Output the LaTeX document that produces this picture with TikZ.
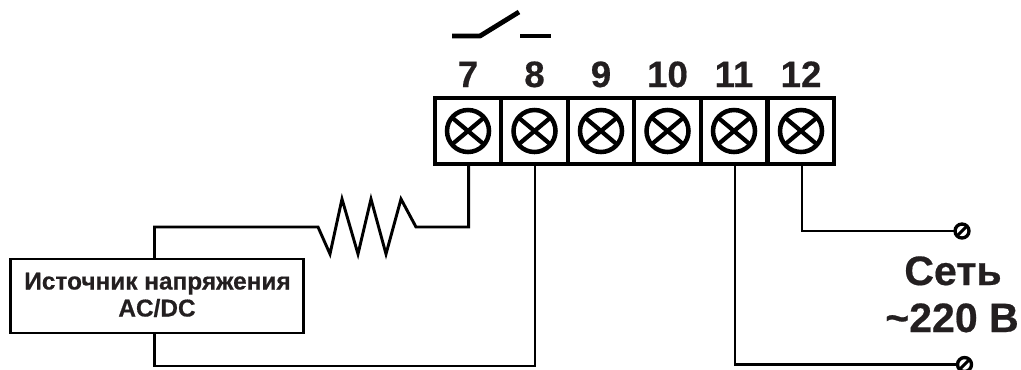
\documentclass[tikz,border=0pt]{standalone}
\usepackage{fontspec}
\setmainfont[BoldFeatures={FakeBold=0.5}]{Liberation Sans}
\definecolor{ink}{HTML}{231F20}
\tikzset{
  cell/.style={draw=black,line width=3.2pt,minimum width=49.9pt,minimum height=49.5pt,inner sep=0pt,outer sep=0pt},
  screw/.style={circle,draw=black,line width=3.4pt,minimum size=31.5pt,inner sep=0pt,outer sep=0pt},
  wire/.style={draw=black,line width=2.2pt,line join=miter},
  contact/.style={draw=black,line width=3.6pt},
  endpoint/.style={circle,draw=black,line width=2.5pt,minimum size=10.5pt,inner sep=0pt,outer sep=0pt},
  num/.style={font=\fontsize{27.5}{27.5}\selectfont\bfseries,text=ink,inner sep=0pt,anchor=base},
  big/.style={font=\fontsize{30.8}{30.8}\selectfont\bfseries,text=ink,inner sep=0pt,anchor=base},
  small/.style={font=\fontsize{18.3}{18.3}\selectfont\bfseries,text=ink,inner sep=0pt,anchor=base},
}
\begin{document}
\begin{tikzpicture}[x=0.75pt,y=-0.75pt]
\useasboundingbox (0,0) rectangle (1021,369);
% terminal block
\foreach \n/\x in {7/468,8/534.5,9/601,10/667.5,11/734,12/801}{
  \node[cell] (c\n) at (\x,131) {};
  \node[screw] (s\n) at (\x,131) {};
  \draw[line width=3.2pt] (s\n.140) -- (s\n.320);
  \draw[line width=3.2pt] (s\n.40) -- (s\n.220);
  \node[num] (l\n) at (\x,87) {\n};
}
% switch
\coordinate (swa) at (452,36);
\coordinate (swb) at (480,36);
\coordinate (swc) at (519,12);
\coordinate (swd) at (520,36);
\coordinate (swe) at (551,36);
\draw[contact,line join=bevel] (swa) -- (swb) -- (swc);
\draw[contact] (swd) -- (swe);
% source
\node[draw=black,line width=2.2pt,minimum width=220pt,minimum height=55.5pt,inner sep=0pt,outer sep=0pt] (src) at (157,296) {};
\node[small] (srct1) at (157.5,289.5) {Источник напряжения};
\node[small] (srct2) at (157,316.5) {AC/DC};
% resistor
\coordinate (ra) at (318,227);
\coordinate (rb) at (416,227);
\coordinate (srctop) at (154.5,259);
\coordinate (srcbot) at (154.5,333);
\draw[wire] (srctop) -- (154.5,227) -- (ra)
  -- (330,254) -- (342,199) -- (358,254) -- (371,199) -- (386,254) -- (401,199) -- (rb)
  -- (468.7,227) -- (468.7,165);
\draw[wire] (srcbot) -- (154.5,366) -- (535,366) -- (535,165);
% mains
\node[endpoint] (e1) at (962,231) {};
\node[endpoint] (e2) at (964.5,364.5) {};
\draw[line width=2.2pt] (e1.225) -- (e1.45);
\draw[line width=2.2pt] (e2.225) -- (e2.45);
\draw[wire] (c12.south -| 802,0) -- (802,231) -- (e1.west);
\draw[wire] (c11.south -| 735,0) -- (735,364.5) -- (e2.west);
\node[big] (t1) at (953,285) {Сеть};
\node[big] (t2) at (952,332) {\char"007E 220 В};
\end{tikzpicture}
\end{document}
